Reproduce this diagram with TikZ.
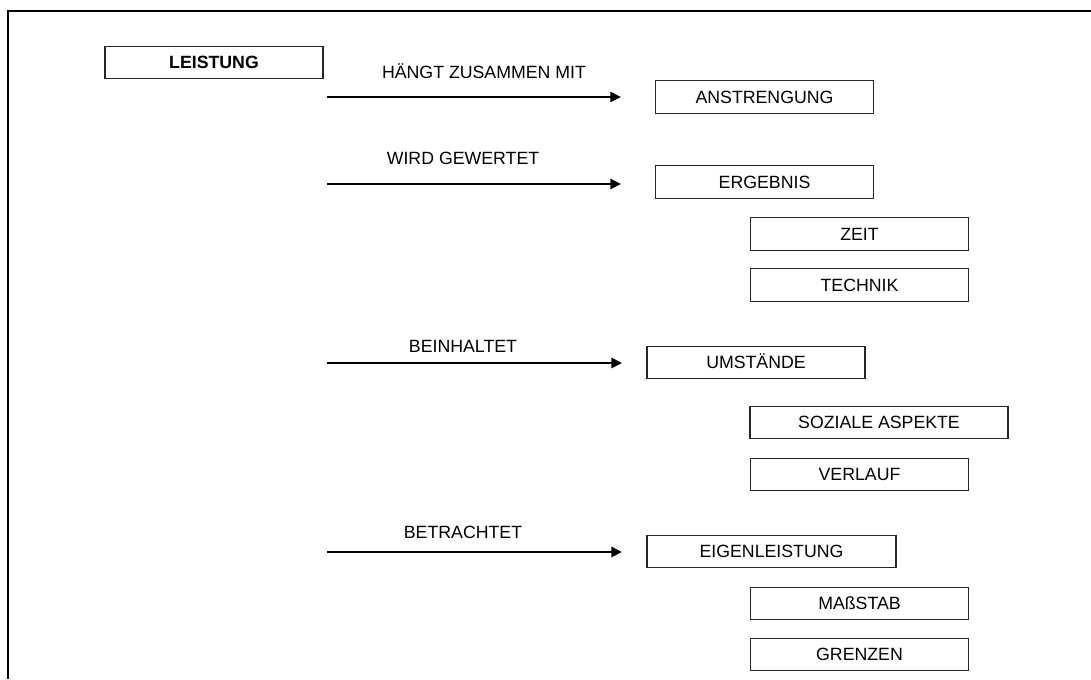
\documentclass[tikz,border=0pt]{standalone}
\usepackage{fontspec}
\setmainfont{Liberation Sans}
\usetikzlibrary{arrows.meta}
\begin{document}
\begin{tikzpicture}[x=0.75pt,y=-0.75pt,
  box/.style={draw=black!85,line width=0.9pt,inner sep=0pt,minimum height=24.5pt,
    text height=9.5pt,text depth=0pt,font=\fontsize{13.3}{16}\selectfont},
  lbl/.style={inner sep=0pt,anchor=base,font=\fontsize{13.3}{16}\selectfont},
  link/.style={line width=2pt,-{Triangle[length=8pt,width=7.5pt]}}]
\useasboundingbox (0,0) rectangle (1091,679);
\fill[white] (0,0) rectangle (1091,679);
% frame
\draw[line width=2pt] (1091,11) -- (8,11) -- (8,679);
% boxes
\node[box,minimum width=163.5pt,font=\fontsize{13.3}{16}\selectfont\bfseries] (leistung) at (214,62.5) {LEISTUNG};
\node[box,minimum width=164pt] (anstr) at (764.5,97) {ANSTRENGUNG};
\node[box,minimum width=164pt] (ergeb) at (764.5,182) {ERGEBNIS};
\node[box,minimum width=164pt] (zeit) at (859.5,234) {ZEIT};
\node[box,minimum width=164pt] (technik) at (859.5,285) {TECHNIK};
\node[box,minimum width=163.5pt] (umst) at (756,362.5) {UMSTÄNDE};
\node[box,minimum width=193.5pt] (sozial) at (879,422.5) {SOZIALE ASPEKTE};
\node[box,minimum width=164pt] (verlauf) at (859.5,474.5) {VERLAUF};
\node[box,minimum width=186.75pt] (eigen) at (771.5,551.5) {EIGENLEISTUNG};
\node[box,minimum width=164pt] (mass) at (859.5,603.5) {MAßSTAB};
\node[box,minimum width=164pt] (grenzen) at (859.5,654.5) {GRENZEN};
% arrow end points
\coordinate (a1s) at (327,97);  \coordinate (a1e) at (621,97);
\coordinate (a2s) at (327,184); \coordinate (a2e) at (621,184);
\coordinate (a3s) at (327,363); \coordinate (a3e) at (622,363);
\coordinate (a4s) at (327,552); \coordinate (a4e) at (622,552);
\draw[link] (a1s) -- (a1e);
\draw[link] (a2s) -- (a2e);
\draw[link] (a3s) -- (a3e);
\draw[link] (a4s) -- (a4e);
% labels
\node[lbl] (l1) at (484,78.4) {HÄNGT ZUSAMMEN MIT};
\node[lbl] (l2) at (463,164.4) {WIRD GEWERTET};
\node[lbl] (l3) at (463,352.4) {BEINHALTET};
\node[lbl] (l4) at (463,538.4) {BETRACHTET};
\end{tikzpicture}
\end{document}
